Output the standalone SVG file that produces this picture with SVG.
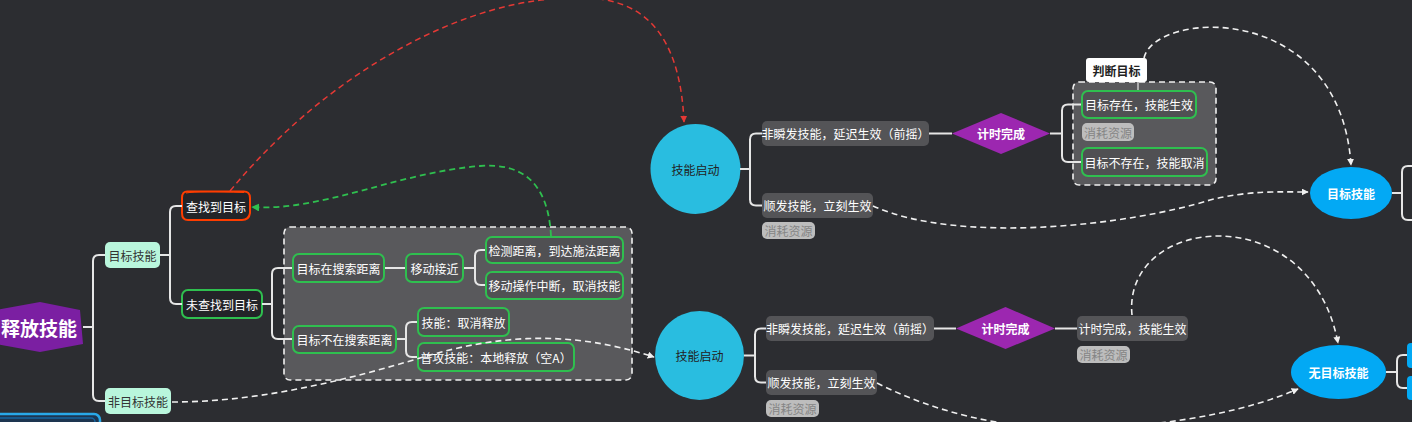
<svg xmlns="http://www.w3.org/2000/svg" width="1412" height="422" viewBox="0 0 1412 422">
<defs>
<style>
text{font-family:"Noto Sans CJK SC","Noto Sans",sans-serif;font-size:12px;dominant-baseline:central;text-anchor:middle}
.tree{fill:none;stroke:#e6e6e6;stroke-width:2;stroke-linejoin:round}
.dash{fill:none;stroke:#f0f0f0;stroke-width:1.6;stroke-dasharray:6 4}
.mint{fill:#b9f6dc}
.mintt{fill:#333}
.gnode{fill:#505053;stroke:#2fbf4f;stroke-width:2}
.gray{fill:#545457}
.wt{fill:#fff}
.tag{fill:#bdbdbd}
.tagt{fill:#858585}
.box{fill:#59595c;stroke:#f0f0f0;stroke-width:1.6;stroke-dasharray:6 4}
.bold{font-weight:bold}
</style>
<marker id="aw" viewBox="0 0 10 10" refX="9" refY="5" markerWidth="7" markerHeight="7" orient="auto" markerUnits="userSpaceOnUse"><path d="M0,0L10,5L0,10z" fill="#f0f0f0"/></marker>
<marker id="ar" viewBox="0 0 10 10" refX="9" refY="5" markerWidth="7" markerHeight="7" orient="auto" markerUnits="userSpaceOnUse"><path d="M0,0L10,5L0,10z" fill="#e53935"/></marker>
<marker id="ag" viewBox="0 0 10 10" refX="9" refY="5" markerWidth="8" markerHeight="8" orient="auto" markerUnits="userSpaceOnUse"><path d="M0,0L10,5L0,10z" fill="#2fbf4f"/></marker>
</defs>
<rect x="0" y="0" width="1412" height="422" fill="#2c2d31"/>

<g id="group-boxes">
<rect class="box" x="284" y="227" width="348" height="153" rx="6"/>
<rect class="box" x="1073" y="82" width="143" height="103" rx="6"/>
</g>

<g id="n-root">
<polygon points="-4,310 40,302 80,310 83,344 40,352 -4,344" fill="#7b1fa2"/>
<text x="39" y="327" class="bold" fill="#fff" style="font-size:19px">释放技能</text>
</g>
<g id="n-target"><rect class="mint" x="105" y="242" width="55" height="26" rx="5"/><text class="mintt" x="132.5" y="255">目标技能</text></g>
<g id="n-nontarget"><rect class="mint" x="105" y="388" width="66" height="26" rx="5"/><text class="mintt" x="138" y="401">非目标技能</text></g>
<g id="n-found">
<path d="M188,191.5 H243 Q250,191 250,198 V213 Q249,220 242,220 H188 Q182,220 182,213 V198 Q182,191 188,191.5 Z" fill="#232428" stroke="#ff3d00" stroke-width="2"/>
<path d="M186,193 Q200,190.5 244,192.5" fill="none" stroke="#ff3d00" stroke-width="1"/>
<text class="wt" x="216" y="206">查找到目标</text>
</g>
<g id="n-notfound"><rect x="182" y="290" width="80" height="28" rx="6" fill="#232428" stroke="#2fbf4f" stroke-width="2"/><text class="wt" x="222" y="304">未查找到目标</text></g>
<g id="n-inrange"><rect class="gnode" x="293" y="254" width="91" height="28" rx="6"/><text class="wt" x="338.5" y="268">目标在搜索距离</text></g>
<g id="n-approach"><rect class="gnode" x="406" y="254" width="57" height="28" rx="6"/><text class="wt" x="434.5" y="268">移动接近</text></g>
<g id="n-detect"><rect class="gnode" x="486" y="237" width="137" height="26" rx="6"/><text class="wt" x="554.5" y="250">检测距离，到达施法距离</text></g>
<g id="n-interrupt"><rect class="gnode" x="486" y="272" width="137" height="27" rx="6"/><text class="wt" x="554.5" y="285.5">移动操作中断，取消技能</text></g>
<g id="n-outrange"><rect class="gnode" x="293" y="326" width="103" height="27" rx="6"/><text class="wt" x="344.5" y="339.5">目标不在搜索距离</text></g>
<g id="n-cancel"><rect class="gnode" x="418" y="308" width="91" height="28" rx="6"/><text class="wt" x="463.5" y="322">技能：取消释放</text></g>
<g id="n-local"><rect class="gnode" x="418" y="343" width="156" height="28" rx="6"/><text class="wt" x="496" y="357">普攻技能：本地释放（空A）</text></g>

<g id="n-start1"><circle cx="695.5" cy="169" r="45" fill="#29bde0"/><text x="695.5" y="169" fill="#222">技能启动</text></g>
<g id="n-delay1"><rect class="gray" x="762" y="121" width="167" height="25" rx="5"/><text class="wt" x="845.5" y="133.5">非瞬发技能，延迟生效（前摇）</text></g>
<g id="n-instant1"><rect class="gray" x="762" y="193" width="111" height="25" rx="5"/><text class="wt" x="817.5" y="205.5">顺发技能，立刻生效</text></g>
<g id="n-cost1"><rect class="tag" x="762" y="222" width="53" height="17" rx="5"/><text class="tagt" x="788.5" y="230.5">消耗资源</text></g>
<g id="n-timer1"><polygon points="952,133.5 1001,113 1050,133.5 1001,154" fill="#9c27b0"/><text class="wt bold" x="1001" y="133.5">计时完成</text></g>
<g id="n-judge"><rect x="1086" y="58" width="61" height="24" rx="3" fill="#fff"/><text x="1116.5" y="70" fill="#222" style="font-weight:600">判断目标</text></g>
<g id="n-exists"><rect class="gnode" x="1082" y="91" width="114" height="27" rx="6"/><text class="wt" x="1139" y="104.5">目标存在，技能生效</text></g>
<g id="n-cost2"><rect class="tag" x="1082" y="123" width="52" height="18" rx="5"/><text class="tagt" x="1108" y="132">消耗资源</text></g>
<g id="n-notexists"><rect class="gnode" x="1082" y="148" width="125" height="28" rx="6"/><text class="wt" x="1144.5" y="162">目标不存在，技能取消</text></g>
<g id="n-targetskill"><ellipse cx="1351" cy="193" rx="41" ry="26" fill="#03a9f4"/><text class="wt bold" x="1351" y="193">目标技能</text></g>

<g id="n-start2"><circle cx="699.5" cy="355.5" r="44.5" fill="#29bde0"/><text x="699.5" y="355.5" fill="#222">技能启动</text></g>
<g id="n-delay2"><rect class="gray" x="766" y="316" width="168" height="25" rx="5"/><text class="wt" x="850" y="328.5">非瞬发技能，延迟生效（前摇）</text></g>
<g id="n-instant2"><rect class="gray" x="766" y="370" width="111" height="25" rx="5"/><text class="wt" x="821.5" y="382.5">顺发技能，立刻生效</text></g>
<g id="n-cost3"><rect class="tag" x="766" y="400" width="53" height="17" rx="5"/><text class="tagt" x="792.5" y="408.5">消耗资源</text></g>
<g id="n-timer2"><polygon points="956,328.5 1005.5,307 1055,328.5 1005.5,349" fill="#9c27b0"/><text class="wt bold" x="1005.5" y="328.5">计时完成</text></g>
<g id="n-done"><rect class="gray" x="1077" y="316" width="111" height="25" rx="5"/><text class="wt" x="1132.5" y="328.5">计时完成，技能生效</text></g>
<g id="n-cost4"><rect class="tag" x="1077" y="346" width="53" height="17" rx="5"/><text class="tagt" x="1103.5" y="354.5">消耗资源</text></g>
<g id="n-notargetskill"><ellipse cx="1338.5" cy="372" rx="47.5" ry="27" fill="#03a9f4"/><text class="wt bold" x="1338.5" y="372">无目标技能</text></g>
<g id="n-right1"><rect x="1407" y="343" width="20" height="25" rx="4" fill="#03a9f4"/></g>
<g id="n-right2"><rect x="1407" y="376" width="20" height="24" rx="4" fill="#03a9f4"/></g>
<g id="n-bottomleft"><rect x="-6" y="414" width="106" height="30" rx="6" fill="#1d3550" stroke="#29a8e8" stroke-width="2.5"/><rect x="-6" y="418" width="101" height="30" rx="4" fill="none" stroke="#1565a0" stroke-width="1.5"/></g>

<g id="connectors">
<path class="tree" d="M83,327 H93 M105,255 H99 Q93,255 93,261 V395 Q93,401 99,401 H105"/>
<path class="tree" d="M160,255 H170 M182,206 H176 Q170,206 170,212 V298 Q170,304 176,304 H182"/>
<path class="tree" d="M262,304 H272 M292,268 H278 Q272,268 272,274 V333 Q272,339 278,339 H292"/>
<path class="tree" d="M385,268 H405"/>
<path class="tree" d="M464,268 H475 M485,250 H481 Q475,250 475,256 V279 Q475,285 481,285 H485"/>
<path class="tree" d="M397,339 H406 M417,322 H412 Q406,322 406,328 V351 Q406,357 412,357 H417"/>
<path class="tree" d="M740,169 H750 M762,133.5 H756 Q750,133.5 750,139.5 V199.5 Q750,205.5 756,205.5 H762"/>
<path class="tree" d="M929,133.5 H952 M1050,133.5 H1062 M1081,104.5 H1068 Q1062,104.5 1062,110.5 V156 Q1062,162 1068,162 H1081"/>
<path class="tree" d="M1392,193 H1402 M1414,166 H1408 Q1402,166 1402,172 V214 Q1402,220 1408,220 H1414"/>
<path class="tree" d="M744,355.5 H755 M766,328.5 H761 Q755,328.5 755,334.5 V376.5 Q755,382.5 761,382.5 H766"/>
<path class="tree" d="M934,328.5 H956 M1055,328.5 H1077"/>
<path class="tree" d="M1386,372 H1397 M1407,355 H1403 Q1397,355 1397,361 V382 Q1397,388 1403,388 H1407"/>
<path d="M1138,82 V90" stroke="#e6e6e6" stroke-width="1.2"/>
<path d="M230,191 C330,70 470,-5 580,-2 C640,-3 680,30 684,122" fill="none" stroke="#e53935" stroke-width="1.5" stroke-dasharray="6 4" marker-end="url(#ar)"/>
<path d="M551,236 C548,180 520,163 480,166 C400,172 320,212 252,207" fill="none" stroke="#2fbf4f" stroke-width="1.8" stroke-dasharray="6 4" marker-end="url(#ag)"/>
<path class="dash" d="M172,402 C250,402 330,385 420,358 C500,334 570,330 654,357" marker-end="url(#aw)"/>
<path class="dash" d="M873,206 C960,245 1130,225 1210,200 C1250,190 1280,192 1308,192" marker-end="url(#aw)"/>
<path class="dash" d="M1144,58 C1155,10 1340,0 1351,165" marker-end="url(#aw)"/>
<path class="dash" d="M877,383 C950,420 1030,432 1100,428 C1180,424 1250,410 1298,389" marker-end="url(#aw)"/>
<path class="dash" d="M1132,315 C1122,215 1310,195 1338,343" marker-end="url(#aw)"/>
</g>
</svg>
